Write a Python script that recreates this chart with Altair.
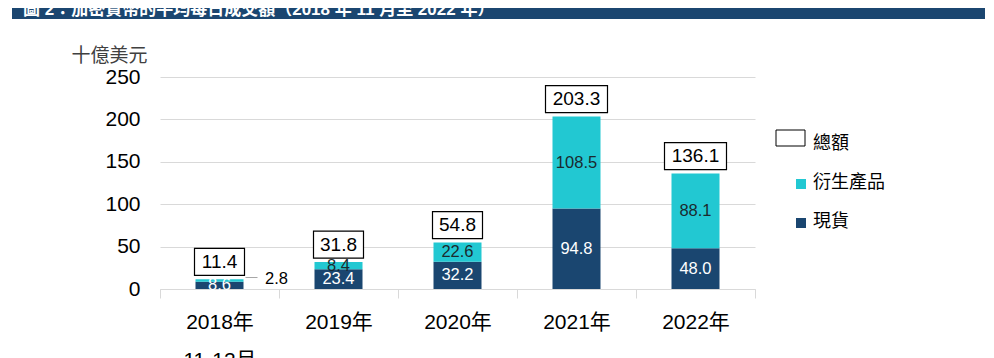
import altair as alt
import pandas as pd

# ---------------- data ----------------
years = ["2018年", "2019年", "2020年", "2021年", "2022年"]
first_label_line2 = "11-12月"
spot = [8.6, 23.4, 32.2, 94.8, 48.0]          # 現貨
deriv = [2.8, 8.4, 22.6, 108.5, 88.1]         # 衍生產品
totals = [11.4, 31.8, 54.8, 203.3, 136.1]     # 總額
series_names = ["現貨", "衍生產品"]
legend_items = ["總額", "衍生產品", "現貨"]
y_ticks = [0, 50, 100, 150, 200, 250]
title_text = "圖 2：加密貨幣的平均每日成交額（2018 年 11 月至 2022 年）"
y_title = "十億美元"

# ---------------- style ----------------
NAVY = "#1a4670"
CYAN = "#22c8d2"
GRID = "#d9d9d9"
FONT = "Liberation Sans, Noto Sans CJK TC"

rows = []
for i, yr in enumerate(years):
    rows.append({"year": yr, "series": series_names[0], "value": spot[i], "order": 0})
    rows.append({"year": yr, "series": series_names[1], "value": deriv[i], "order": 1})
df = pd.DataFrame(rows)
tot_df = pd.DataFrame({"year": years, "total": totals})
leg_df = pd.DataFrame({"item": legend_items})
one = pd.DataFrame({"t": [title_text]})

y_scale = alt.Scale(domain=[0, 250])
color_scale = alt.Scale(domain=["衍生產品", "現貨"], range=[CYAN, NAVY])

label_expr = f"datum.value == '{years[0]}' ? ['{years[0]}', '{first_label_line2}'] : datum.value"

x_enc = alt.X(
    "year:N", sort=years,
    scale=alt.Scale(paddingInner=0, paddingOuter=0),
    axis=alt.Axis(
        title=None, labelAngle=0, labelExpr=label_expr, tickBand="extent",
        labelFontSize=21, labelFont=FONT, labelColor="#000000",
        labelLineHeight=38, labelBaseline="top", labelPadding=13,
        tickSize=9, tickColor=GRID, domainColor=GRID, grid=False,
    ),
)
x_plain = alt.X("year:N", sort=years)

y_axis = alt.Axis(
    values=y_ticks, title=y_title, titleAngle=0, titleAlign="right",
    titleX=-13, titleY=-22, titleBaseline="middle", titleFontSize=19,
    titleFont=FONT, titleFontWeight="normal", titleColor="#404040",
    labelFontSize=21, labelFont=FONT, labelColor="#000000",
    labelPadding=20, ticks=False, tickSize=0, domain=False,
    grid=True, gridColor=GRID,
)

bars = alt.Chart(df).mark_bar(size=48).encode(
    x=x_enc,
    y=alt.Y("value:Q", stack="zero", scale=y_scale, axis=y_axis),
    color=alt.Color("series:N", scale=color_scale, legend=None),
    order=alt.Order("order:Q"),
)

stacked = alt.Chart(df).transform_stack(
    stack="value", groupby=["year"], as_=["y0", "y1"],
    sort=[alt.SortField("order", "ascending")],
).transform_calculate(mid="(datum.y0 + datum.y1) / 2")

y_mid = alt.Y("mid:Q", scale=y_scale, title=y_title)
txt = alt.Text("value:Q", format=".1f")

spot_labels = stacked.transform_filter("datum.series == '現貨'").mark_text(
    color="white", fontSize=16.5, font=FONT, baseline="middle"
).encode(x=x_plain, y=y_mid, text=txt)

deriv_in = stacked.transform_filter("datum.series == '衍生產品' && datum.value >= 5").mark_text(
    color="#1b2a2e", fontSize=16.5, font=FONT, baseline="middle"
).encode(x=x_plain, y=y_mid, text=txt)

deriv_out = stacked.transform_filter("datum.series == '衍生產品' && datum.value < 5").mark_text(
    color="#000000", fontSize=16.5, font=FONT, baseline="middle", dx=57, dy=-2
).encode(x=x_plain, y=y_mid, text=txt)

leader = stacked.transform_filter("datum.series == '衍生產品' && datum.value < 5").mark_rule(
    color="#a6a6a6", strokeWidth=1, xOffset=26, x2Offset=38, yOffset=-3
).encode(x=x_plain, x2=alt.X2("year"), y=y_mid)

boxes = alt.Chart(tot_df).transform_calculate(
    n="length(format(datum.total, '.1f'))"
).mark_bar(fill="white", stroke="black", strokeWidth=1.2, yOffset=-4, y2Offset=-31).encode(
    x=x_plain,
    y=alt.Y("total:Q", scale=y_scale, title=y_title),
    y2=alt.Y2("total:Q"),
    size=alt.Size("n:Q", scale=alt.Scale(domain=[4, 5], range=[50, 62]), legend=None),
)

tot_text = alt.Chart(tot_df).mark_text(
    dy=-17.5, fontSize=19, font=FONT, color="#000000", baseline="middle"
).encode(
    x=x_plain,
    y=alt.Y("total:Q", scale=y_scale, title=y_title),
    text=alt.Text("total:Q", format=".1f"),
)

# ---------------- legend (drawn) ----------------
LEG_Y = {"總額": 67, "衍生產品": 106, "現貨": 145}   # row centres, px in plot area

leg_layers = []
for item in legend_items:
    src = alt.Chart(leg_df).transform_filter(alt.datum.item == item)
    yy = LEG_Y[item]
    if item == "總額":
        sym = src.mark_rect(fill="white", stroke="black", strokeWidth=1).encode(
            x=alt.value(616), x2=alt.value(645), y=alt.value(yy - 14), y2=alt.value(yy + 2)
        )
    else:
        sym = src.mark_square(size=100, filled=True, opacity=1).encode(
            x=alt.value(641), y=alt.value(yy + 1),
            color=alt.Color("item:N", scale=color_scale, legend=None),
        )
    lab = src.mark_text(
        align="left", baseline="middle", fontSize=18, font=FONT, color="#000000"
    ).encode(x=alt.value(653), y=alt.value(yy), text="item:N")
    leg_layers += [sym, lab]

# ---------------- title bar ----------------
title_bar = alt.Chart(one).mark_rect(color="#1b4670").encode(
    x=alt.value(-148), x2=alt.value(825), y=alt.value(-80), y2=alt.value(-58)
)
title_txt = alt.Chart(one).mark_text(
    align="left", baseline="alphabetic", fontSize=17, fontWeight="bold",
    font=FONT, color="white"
).encode(x=alt.value(-137), y=alt.value(-62), text="t:N")

chart = alt.layer(
    bars, spot_labels, deriv_in, deriv_out, leader, boxes, tot_text,
    *leg_layers, title_bar, title_txt
).properties(
    width=595, height=212,
    autosize=alt.AutoSizeParams(type="none"),
    padding={"left": 152, "top": 69, "right": 231, "bottom": 69},
    background="white",
).configure_view(stroke=None)

chart.save("out.html", embed_options={"renderer": "svg", "actions": False})
